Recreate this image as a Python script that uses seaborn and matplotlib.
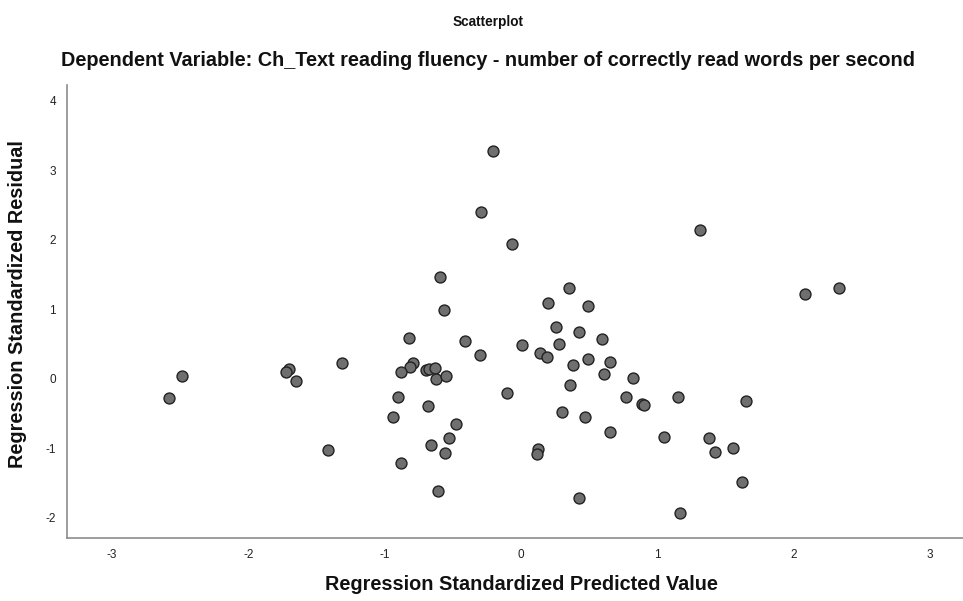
import matplotlib
matplotlib.use("Agg")
import matplotlib.pyplot as plt
import seaborn as sns
import pandas as pd

# Data
predicted = [-2.489, -2.583, -1.702, -1.724, -1.651, -1.316, -1.414,
             -0.565, -0.824, -0.411, -0.299, -0.795, -0.814, -0.878, -0.697,
             -0.673, -0.631, -0.624, -0.550, -0.902, -0.682, -0.941, -0.475,
             -0.526, -0.663, -0.557, -0.880, -0.609, -0.103, 0.010, 0.142,
             0.189, 0.257, 0.277, 0.200, 0.494, 0.428, 0.592, 0.382, 0.494,
             0.653, 0.611, 0.819, 0.360, 0.768, 0.890, 0.903, 0.303, 0.472,
             0.653, 1.052, 0.125, 0.115, 0.428, -0.208, -0.294, -0.064,
             -0.592, 0.350, 1.313, 2.084, 2.331, 1.154, 1.651, 1.379, 1.423,
             1.558, 1.624, 1.166]
residual = [0.037, -0.270, 0.142, 0.104, -0.035, 0.229, -1.022,
            0.990, 0.584, 0.545, 0.344, 0.233, 0.167, 0.095, 0.124,
            0.138, 0.157, -0.001, 0.037, -0.256, -0.385, -0.553, -0.648,
            -0.845, -0.946, -1.061, -1.205, -1.617, -0.203, 0.492, 0.372,
            0.315, 0.751, 0.502, 1.087, 1.044, 0.679, 0.569, 0.204, 0.290,
            0.243, 0.066, 0.017, -0.092, -0.265, -0.366, -0.371, -0.476, -0.548,
            -0.763, -0.835, -1.008, -1.085, -1.708, 3.277, 2.395, 1.944,
            1.465, 1.311, 2.141, 1.225, 1.302, -0.260, -0.318, -0.854, -1.047,
            -0.998, -1.478, -1.933]
x_ticks = [-3, -2, -1, 0, 1, 2, 3]
y_ticks = [-2, -1, 0, 1, 2, 3, 4]

df = pd.DataFrame({"pred": predicted, "resid": residual})

sns.set_theme(style="white")
plt.rcParams["font.family"] = ["Liberation Sans", "DejaVu Sans"]

fig = plt.figure(figsize=(9.63, 6.01), dpi=100)
ax = fig.add_axes([67 / 963, 1 - 538 / 601, 1 - 67 / 963, (538 - 85) / 601])

sns.scatterplot(data=df, x="pred", y="resid", ax=ax, s=62,
                color="#6f6f6f", edgecolor="#222222", linewidth=1.0,
                legend=False, zorder=3)

ax.set_xlim(-3.331, 3.243)
ax.set_ylim(-2.288, 4.226)
ax.set_xticks(x_ticks)
ax.set_yticks(y_ticks)
ax.set_xticklabels([str(v) for v in x_ticks])
ax.set_yticklabels([str(v) for v in y_ticks])
ax.tick_params(axis="both", length=0, labelsize=8.5, labelcolor="#222222", pad=8)
ax.set_xlabel("")
ax.set_ylabel("")

for side in ["top", "right"]:
    ax.spines[side].set_visible(False)
for side in ["left", "bottom"]:
    ax.spines[side].set_visible(True)
    ax.spines[side].set_color("#8c8c8c")
    ax.spines[side].set_linewidth(1.2)

fig.text(488 / 963, 1 - 22 / 601, "Scatterplot", ha="center", va="center",
         fontsize=9.8, fontweight="bold", color="#111111")
fig.text(488 / 963, 1 - 60 / 601,
         "Dependent Variable: Ch_Text reading fluency - number of correctly read words per second",
         ha="center", va="center", fontsize=14.3, fontweight="bold", color="#111111")
fig.text(521 / 963, 1 - 585 / 601, "Regression Standardized Predicted Value",
         ha="center", va="center", fontsize=14.3, fontweight="bold", color="#111111")
fig.text(18 / 963, 1 - 304 / 601, "Regression Standardized Residual",
         ha="center", va="center", rotation=90, fontsize=14.3,
         fontweight="bold", color="#111111")

fig.savefig("out.png", dpi=100)
